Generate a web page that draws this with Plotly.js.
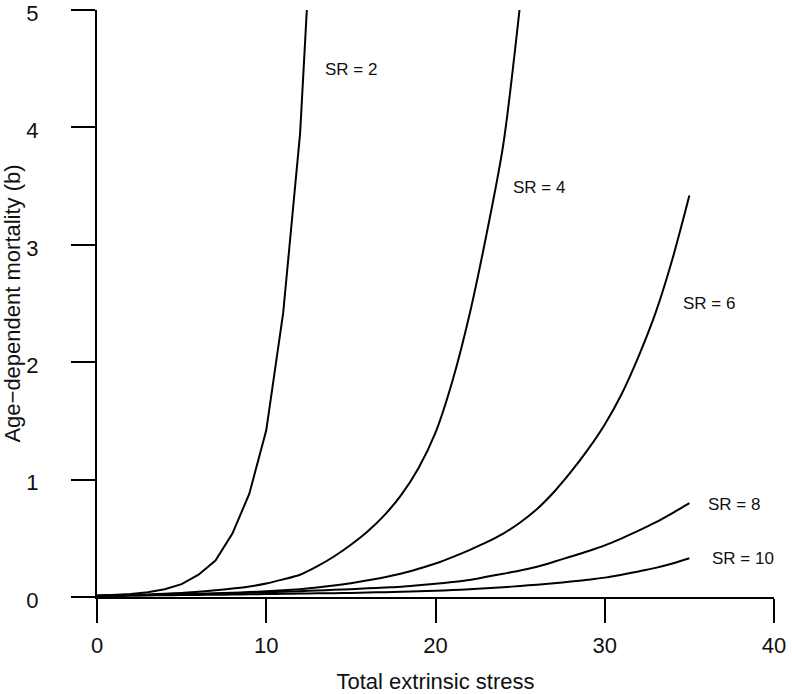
<!DOCTYPE html>
<html>
<head>
<meta charset="utf-8">
<script src="https://cdn.plot.ly/plotly-3.0.1.min.js"></script>
<style>html,body{margin:0;padding:0;background:#fff;}#chart{width:792px;height:694px;}</style>
</head>
<body>
<div id="chart"></div>
<script>
// Total extrinsic stress (x) values
var stress2 = [0,1,2,3,4,5,6,7,8,9,10,11,12,13];
var stressAll = [0,1,2,3,4,5,6,7,8,9,10,11,12,13,14,15,16,17,18,19,20,21,22,23,24,25,26,27,28,29,30,31,32,33,34,35];
var stress4 = stressAll.slice(0, 26);

// Age-dependent mortality (b) per stress ratio (SR)
var mortSR2 = [0.010,0.016,0.025,0.040,0.066,0.11,0.19,0.31,0.54,0.88,1.42,2.42,3.95,6.6];
var mortSR4 = [0.010,0.013,0.017,0.022,0.028,0.035,0.044,0.057,0.072,0.090,0.115,0.150,0.19,0.26,0.345,0.445,0.56,0.70,0.875,1.10,1.40,1.84,2.40,3.08,3.85,5.05];
var mortSR6 = [0.010,0.012,0.014,0.017,0.020,0.023,0.027,0.031,0.036,0.042,0.049,0.057,0.067,0.080,0.097,0.118,0.142,0.168,0.20,0.24,0.285,0.34,0.40,0.465,0.54,0.635,0.75,0.895,1.065,1.255,1.47,1.73,2.05,2.42,2.88,3.42];
var mortSR8 = [0.010,0.012,0.014,0.016,0.019,0.022,0.025,0.028,0.032,0.036,0.040,0.045,0.050,0.055,0.061,0.067,0.074,0.081,0.088,0.100,0.113,0.128,0.145,0.172,0.198,0.225,0.258,0.300,0.345,0.390,0.44,0.50,0.565,0.635,0.715,0.80];
var mortSR10 = [0.010,0.011,0.012,0.013,0.015,0.016,0.018,0.019,0.021,0.023,0.025,0.027,0.029,0.031,0.033,0.035,0.038,0.041,0.045,0.049,0.054,0.059,0.066,0.074,0.083,0.094,0.105,0.118,0.131,0.147,0.165,0.19,0.218,0.248,0.285,0.33];

var srLabels = ["SR = 2","SR = 4","SR = 6","SR = 8","SR = 10"];
var xTicks = [0,10,20,30,40];
var yTicks = [0,1,2,3,4,5];

var FONT = "Liberation Sans, Arial, Helvetica, sans-serif";

var series = [
  {x: stress2, y: mortSR2, name: srLabels[0], shape: "linear"},
  {x: stress4, y: mortSR4, name: srLabels[1], shape: "spline"},
  {x: stressAll, y: mortSR6, name: srLabels[2], shape: "spline"},
  {x: stressAll, y: mortSR8, name: srLabels[3], shape: "spline"},
  {x: stressAll, y: mortSR10, name: srLabels[4], shape: "spline"}
];
var traces = series.map(function(s){
  return {x: s.x, y: s.y, name: s.name, type: "scatter", mode: "lines",
          line: {color: "#000", width: 2, shape: s.shape, smoothing: 0.8},
          hoverinfo: "x+y+name"};
});

var labelPos = [[15.0,4.49],[26.1,3.49],[36.15,2.50],[37.65,0.79],[38.15,0.33]];
var annotations = srLabels.map(function(t, i){
  return {x: labelPos[i][0], y: labelPos[i][1], xref: "x", yref: "y", text: t,
          showarrow: false, xanchor: "center", yanchor: "middle",
          font: {family: FONT, size: 17, color: "#111"}};
});

var axisCommon = {
  showline: true, linecolor: "#000", linewidth: 2,
  ticks: "outside", ticklen: 24, tickwidth: 2, tickcolor: "#000",
  showgrid: false, zeroline: false, mirror: false,
  ticklabeloverflow: "allow",
  tickfont: {family: FONT, size: 22, color: "#111"}
};

var layout = {
  width: 792, height: 694,
  margin: {l: 97, r: 18, t: 10, b: 97, pad: 0},
  paper_bgcolor: "#fff", plot_bgcolor: "#fff",
  showlegend: false,
  font: {family: FONT, color: "#111"},
  xaxis: Object.assign({}, axisCommon, {
    range: [0, 40], tickmode: "array", tickvals: xTicks, ticktext: xTicks.map(String),
    ticklabelstandoff: 4,
    title: {text: "Total extrinsic stress", font: {family: FONT, size: 22, color: "#111"}, standoff: 18}
  }),
  yaxis: Object.assign({}, axisCommon, {
    range: [0, 5.001], tickmode: "array", tickvals: yTicks, ticktext: yTicks.map(String),
    ticklabelstandoff: 28, ticklabelshift: 3,
    title: {text: "Age\u2212dependent mortality (b)", font: {family: FONT, size: 22, color: "#111"}, standoff: 10}
  }),
  annotations: annotations
};

Plotly.newPlot("chart", traces, layout, {displayModeBar: false, staticPlot: true});
</script>
</body>
</html>
